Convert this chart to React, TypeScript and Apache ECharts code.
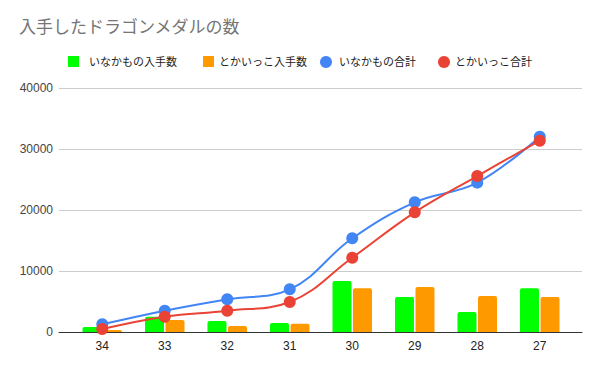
import React, { useEffect, useRef } from "react";
import * as echarts from "echarts";

const categories = ["34", "33", "32", "31", "30", "29", "28", "27"];
const inakaCount = [820, 2510, 1800, 1475, 8360, 5740, 3280, 7160];
const tokaiCount = [330, 1970, 980, 1360, 7160, 7380, 5900, 5740];
const inakaTotal = [1260, 3500, 5360, 7000, 15360, 21260, 24480, 32020];
const tokaiTotal = [490, 2510, 3490, 4920, 12180, 19620, 25570, 31360];
const yTicks = [0, 10000, 20000, 30000, 40000];

const names = ["いなかもの入手数", "とかいっこ入手数", "いなかもの合計", "とかいっこ合計"];
const colors = ["#00ff00", "#ff9900", "#4285f4", "#ea4335"];
const FONT = "Arial, 'Liberation Sans', 'Noto Sans CJK JP', sans-serif";

export default function App() {
  const ref = useRef<HTMLDivElement>(null);
  useEffect(() => {
    if (!ref.current) return;
    const chart = echarts.init(ref.current, null, { renderer: "svg" });
    const legendBase = (i: number, left: number, icon: string, size: number, pad: number) => ({
      data: [names[i]],
      left,
      top: 56,
      icon,
      itemWidth: size,
      itemHeight: size,
      selectedMode: false,
      padding: 0,
      textStyle: { fontSize: 11, color: "#222", fontFamily: FONT, padding: [0, 0, 0, pad] },
    });
    chart.setOption({
      animation: false,
      color: colors,
      textStyle: { fontFamily: FONT },
      title: {
        text: "入手したドラゴンメダルの数",
        left: 19,
        top: 19,
        padding: 0,
        textStyle: { fontSize: 17, fontWeight: "normal", color: "#757575", fontFamily: FONT },
      },
      legend: [
        legendBase(0, 68, "rect", 11, 5),
        legendBase(1, 203, "rect", 11, 0),
        legendBase(2, 320, "circle", 12, 2),
        legendBase(3, 438, "circle", 12, 0),
      ],
      grid: [
        { left: 59, right: 18, top: 88, bottom: 39 },
        { left: 71, right: 29, top: 88, bottom: 39 },
      ],
      xAxis: [
        {
          type: "category",
          gridIndex: 0,
          data: categories,
          axisLine: { show: true, lineStyle: { color: "#333", width: 1 } },
          axisTick: { show: false },
          axisLabel: { show: false },
          splitLine: { show: false },
        },
        {
          type: "category",
          gridIndex: 1,
          data: categories,
          axisLine: { show: false },
          axisTick: { show: false },
          axisLabel: { color: "#222", fontSize: 12, margin: 8, fontFamily: FONT },
        },
      ],
      yAxis: [
        {
          type: "value",
          gridIndex: 0,
          min: yTicks[0],
          max: yTicks[yTicks.length - 1],
          interval: 10000,
          axisLine: { show: false },
          axisTick: { show: false },
          axisLabel: {
            color: "#444",
            fontSize: 12,
            margin: 6,
            fontFamily: FONT,
            formatter: (v: number) => String(v),
          },
          splitLine: { show: true, lineStyle: { color: "#cccccc", width: 1 } },
        },
        {
          type: "value",
          gridIndex: 1,
          min: yTicks[0],
          max: yTicks[yTicks.length - 1],
          interval: 10000,
          show: false,
          splitLine: { show: false },
        },
      ],
      series: [
        {
          name: names[0],
          type: "bar",
          xAxisIndex: 1,
          yAxisIndex: 1,
          data: inakaCount,
          barWidth: 19,
          barGap: "8%",
          itemStyle: { color: colors[0], borderRadius: [2, 2, 0, 0] },
        },
        {
          name: names[1],
          type: "bar",
          xAxisIndex: 1,
          yAxisIndex: 1,
          data: tokaiCount,
          barWidth: 19,
          barGap: "8%",
          itemStyle: { color: colors[1], borderRadius: [2, 2, 0, 0] },
        },
        {
          name: names[2],
          type: "line",
          xAxisIndex: 1,
          yAxisIndex: 1,
          data: inakaTotal,
          smooth: 0.4,
          symbol: "circle",
          symbolSize: 12,
          lineStyle: { color: colors[2], width: 2 },
          itemStyle: { color: colors[2] },
          z: 3,
        },
        {
          name: names[3],
          type: "line",
          xAxisIndex: 1,
          yAxisIndex: 1,
          data: tokaiTotal,
          smooth: 0.4,
          symbol: "circle",
          symbolSize: 12,
          lineStyle: { color: colors[3], width: 2 },
          itemStyle: { color: colors[3] },
          z: 4,
        },
      ],
    });
    return () => chart.dispose();
  }, []);
  return (
    <div
      ref={ref}
      style={{ position: "fixed", left: 0, top: 0, width: 600, height: 371, background: "#fff" }}
    />
  );
}
